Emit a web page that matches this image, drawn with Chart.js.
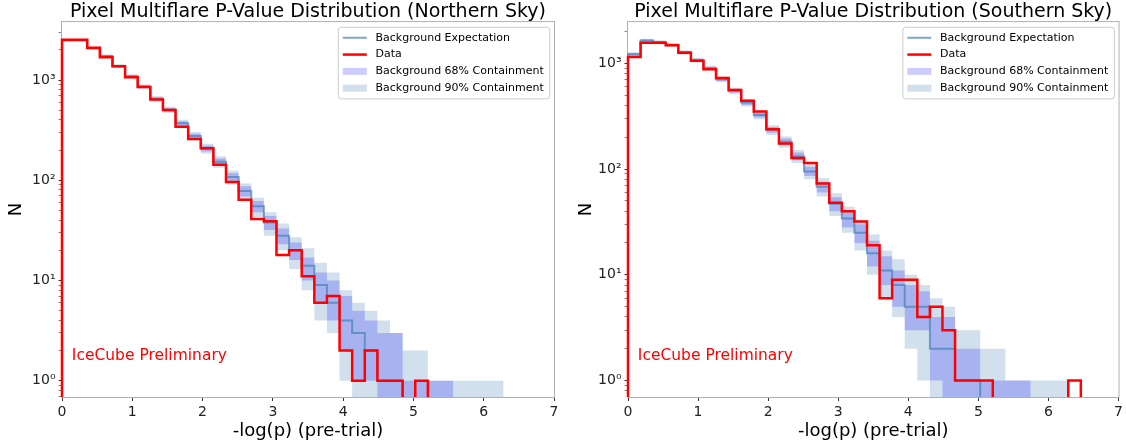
<!DOCTYPE html>
<html lang="en">
<head>
<meta charset="UTF-8">
<title>Pixel Multiflare P-Value Distribution</title>
<style>
  * { box-sizing: border-box; }
  body { margin: 0; background: #fff; width: 1126px; height: 448px; overflow: hidden; position: relative; }
  .chart-box { position: absolute; top: 0; width: 563px; height: 448px; }
  #north-box { left: 0; }
  #south-box { left: 563px; }
</style>
</head>
<body>
<div class="chart-box" id="north-box"><canvas id="northChart"></canvas></div>
<div class="chart-box" id="south-box"><canvas id="southChart"></canvas></div>

<script src="https://cdn.jsdelivr.net/npm/chart.js"></script>
<script>
    // bins of -log(p), all the same width, starting at 0
    const BIN_WIDTH = 0.1795;
    // zero counts sit below the visible log range
    const FLOOR = 0.1;

    const legendLabels = ['Background Expectation', 'Data', 'Background 68% Containment', 'Background 90% Containment'];
    const noteText = 'IceCube Preliminary';
    const xTickValues = [0, 1, 2, 3, 4, 5, 6, 7];
    const yTickValues = [0.7, 0.8, 0.9, 1, 2, 3, 4, 5, 6, 7, 8, 9, 10, 20, 30, 40, 50, 60, 70, 80, 90,
                         100, 200, 300, 400, 500, 600, 700, 800, 900, 1000, 2000, 3000];
    const yMajorTicks = [1, 10, 100, 1000];
    const yMajorLabels = ['10⁰', '10¹', '10²', '10³'];

    // Northern sky, counts per bin
    const northData = [2524, 2524, 2100, 1685, 1370, 1064, 851, 641, 502, 342, 258, 209, 143, 96, 64, 41, 39, 18, 20, 11,
                       6, 7, 2, 1, 2, 1, 1, 0, 1, 0, 0, 0, 0, 0, 0];
    const northExpected = [2500, 2500, 2080, 1740, 1380, 1090, 860, 650, 505, 370, 276, 208, 153, 108, 78, 55, 38, 28, 20, 14,
                           9, 6, 4, 3, 2, 1, 1, 0, 0, 0, 0, 0, 0, 0, 0];
    const north68Lo = [2450, 2450, 2035, 1700, 1343, 1057, 831, 625, 483, 351, 260, 194, 141, 98, 69, 48, 32, 23, 16, 10,
                       6, 4, 2, 1, 1, 0, 0, 0, 0, 0, 0, 0, 0, 0, 0];
    const north68Hi = [2550, 2550, 2125, 1780, 1417, 1123, 889, 675, 527, 389, 292, 222, 165, 118, 87, 62, 44, 33, 24, 17,
                       12, 10, 7, 5, 4, 3, 3, 1, 1, 1, 1, 0, 0, 0, 0];
    const north90Lo = [2418, 2418, 2005, 1672, 1319, 1036, 812, 608, 468, 338, 249, 185, 133, 91, 64, 43, 28, 20, 13, 8,
                       4, 3, 1, 0, 0, 0, 0, 0, 0, 0, 0, 0, 0, 0, 0];
    const north90Hi = [2582, 2582, 2155, 1808, 1441, 1144, 908, 692, 542, 402, 303, 232, 174, 125, 93, 67, 48, 37, 27, 21,
                       15, 12, 8, 6, 5, 4, 3, 2, 2, 1, 1, 1, 1, 1, 1];

    // Southern sky, counts per bin
    const southData = [1146, 1564, 1564, 1478, 1259, 1058, 878, 726, 560, 441, 349, 238, 174, 127, 114, 73, 48, 40, 32, 19,
                       6, 9, 9, 4, 5, 3, 1, 1, 1, 0, 0, 0, 0, 0, 0, 1];
    const southExpected = [1216, 1640, 1580, 1490, 1270, 1070, 897, 706, 548, 425, 325, 235, 181, 131, 95, 68, 47, 34, 25, 16,
                           11, 8, 5, 5, 2, 2, 1, 1, 0, 0, 0, 0, 0, 0, 0, 0];
    const south68Lo = [1181, 1600, 1540, 1451, 1234, 1037, 867, 679, 525, 404, 307, 220, 168, 121, 86, 60, 40, 28, 20, 12,
                       8, 5, 3, 3, 1, 0, 0, 0, 0, 0, 0, 0, 0, 0, 0, 0];
    const south68Hi = [1251, 1680, 1620, 1529, 1306, 1103, 927, 733, 571, 446, 343, 250, 194, 143, 105, 76, 54, 40, 30, 21,
                       15, 11, 8, 7, 4, 4, 2, 2, 1, 1, 1, 1, 0, 0, 0, 0];
    const south90Lo = [1159, 1574, 1515, 1427, 1211, 1016, 848, 662, 510, 391, 296, 210, 159, 114, 80, 55, 36, 25, 17, 10,
                       6, 4, 2, 1, 0, 0, 0, 0, 0, 0, 0, 0, 0, 0, 0, 0];
    const south90Hi = [1273, 1706, 1645, 1553, 1329, 1124, 946, 750, 586, 459, 354, 260, 203, 151, 111, 82, 59, 44, 33, 24,
                       17, 14, 10, 8, 6, 5, 3, 3, 2, 2, 1, 1, 1, 1, 1, 0];

    const FONT = 'DejaVu Sans';
    const RED = '#ff0000';
    const EXPECT_COLOR = 'rgba(70, 130, 180, 0.7)';
    const BAND68_COLOR = 'rgba(0, 0, 255, 0.2)';
    const BAND90_COLOR = 'rgba(70, 130, 180, 0.25)';

    function binEdges(n) {
        const e = [];
        for (let i = 0; i <= n; i++) e.push(i * BIN_WIDTH);
        return e;
    }

    // histogram outline, goes down to the floor at both ends
    function stepLine(values) {
        const e = binEdges(values.length);
        const pts = [{x: 0, y: FLOOR}];
        values.forEach((v, i) => pts.push({x: e[i], y: v > 0 ? v : FLOOR}));
        pts.push({x: e[values.length], y: FLOOR});
        return pts;
    }

    // one edge of a containment band
    function stepEdge(values) {
        const e = binEdges(values.length);
        const pts = values.map((v, i) => ({x: e[i], y: v > 0 ? v : FLOOR}));
        pts.push({x: e[values.length], y: pts[pts.length - 1].y});
        return pts;
    }

    function buildDatasets(data, expected, lo68, hi68, lo90, hi90) {
        const common = {stepped: true, pointRadius: 0, clip: {left: 2, top: 0, right: 0, bottom: 0}};
        const edge = {borderColor: 'transparent', borderWidth: 0};
        return [
            {...common, label: 'Data', data: stepLine(data), borderColor: RED, borderWidth: 2.5, fill: false},
            {...common, label: 'Background Expectation', data: stepLine(expected), borderColor: EXPECT_COLOR, borderWidth: 2, fill: false},
            {...common, ...edge, label: 'Background 68% Containment', data: stepEdge(hi68), backgroundColor: BAND68_COLOR, fill: '+1'},
            {...common, ...edge, label: '68 lower edge', data: stepEdge(lo68), fill: false},
            {...common, ...edge, label: 'Background 90% Containment', data: stepEdge(hi90), backgroundColor: BAND90_COLOR, fill: '+1'},
            {...common, ...edge, label: '90 lower edge', data: stepEdge(lo90), fill: false}
        ];
    }

    // gray box round the plot area
    const framePlugin = {
        id: 'frame',
        beforeDatasetsDraw(chart) {
            const {ctx, chartArea: a} = chart;
            ctx.save();
            ctx.strokeStyle = '#b0b0b0';
            ctx.lineWidth = 1;
            ctx.strokeRect(a.left - 0.5, a.top - 0.5, a.width + 1, a.height + 1);
            ctx.restore();
        }
    };

    const notePlugin = {
        id: 'note',
        afterDatasetsDraw(chart) {
            const {ctx, chartArea: a} = chart;
            ctx.save();
            ctx.font = '15.5px "' + FONT + '"';
            ctx.fillStyle = RED;
            ctx.textBaseline = 'alphabetic';
            ctx.fillText(noteText, a.left + 0.02 * a.width, a.bottom - 0.1 * a.height);
            ctx.restore();
        }
    };

    // matplotlib style legend in the upper right corner
    const boxLegendPlugin = {
        id: 'boxLegend',
        afterDatasetsDraw(chart) {
            const {ctx, chartArea: a} = chart;
            const sets = chart.data.datasets;
            ctx.save();
            ctx.font = '11px "' + FONT + '"';
            const textW = Math.max(...legendLabels.map(t => ctx.measureText(t).width));
            const w = 37.7 + textW + 5.5, h = 71.6;
            const x0 = a.right - 4.7 - w, y0 = a.top + 4.7;
            ctx.beginPath();
            ctx.roundRect(x0 + 0.5, y0 + 0.5, w, h, 3);
            ctx.fillStyle = 'rgba(255,255,255,0.8)';
            ctx.fill();
            ctx.strokeStyle = '#cccccc';
            ctx.lineWidth = 1;
            ctx.stroke();
            legendLabels.forEach((label, i) => {
                const ds = sets.find(d => d.label === label);
                const y = y0 + 11 + 16.8 * i;
                if (ds.fill) {
                    ctx.fillStyle = ds.backgroundColor;
                    ctx.fillRect(x0 + 5, y - 3.5, 24, 7);
                } else {
                    ctx.beginPath();
                    ctx.moveTo(x0 + 5, y);
                    ctx.lineTo(x0 + 29, y);
                    ctx.strokeStyle = ds.borderColor;
                    ctx.lineWidth = ds.borderWidth;
                    ctx.stroke();
                }
                ctx.fillStyle = '#000';
                ctx.textBaseline = 'middle';
                ctx.fillText(label, x0 + 37.7, y);
            });
            ctx.restore();
        }
    };

    function makeChart(canvasId, titleText, datasets, yMin, yMax, axisWidth, rightPad, yTitlePad) {
        const ctx = document.getElementById(canvasId).getContext('2d');
        return new Chart(ctx, {
            type: 'line',
            data: {datasets: datasets},
            options: {
                responsive: true,
                maintainAspectRatio: false,
                animation: false,
                events: [],
                layout: {padding: {left: 0, top: 0, right: rightPad, bottom: 0}},
                plugins: {
                    legend: {display: false},
                    tooltip: {enabled: false},
                    title: {
                        display: true,
                        text: titleText,
                        fullSize: false,
                        color: '#000',
                        font: {family: FONT, size: 19, weight: 'normal', lineHeight: 1.03},
                        padding: {top: 2.5, bottom: 0}
                    }
                },
                scales: {
                    x: {
                        type: 'linear',
                        min: 0,
                        max: 7,
                        afterBuildTicks: s => { s.ticks = xTickValues.map(v => ({value: v})); },
                        afterFit: s => { s.height = 51; },
                        border: {display: false},
                        grid: {drawOnChartArea: false, tickLength: 4, tickColor: '#333', color: '#333'},
                        ticks: {
                            autoSkip: false, maxRotation: 0, padding: 3, color: '#222',
                            font: {family: FONT, size: 14},
                            callback: v => String(v)
                        },
                        title: {
                            display: true, text: '-log(p) (pre-trial)', color: '#000',
                            font: {family: FONT, size: 18}, padding: {top: 0, bottom: 6}
                        }
                    },
                    y: {
                        type: 'logarithmic',
                        min: yMin,
                        max: yMax,
                        afterBuildTicks: s => {
                            s.ticks = yTickValues.filter(v => v >= yMin && v <= yMax).map(v => ({value: v}));
                        },
                        afterFit: s => { s.width = axisWidth; },
                        border: {display: false},
                        grid: {
                            drawOnChartArea: false,
                            tickLength: 3.5,
                            tickColor: c => yMajorTicks.includes(c.tick.value) ? '#333' : '#666',
                            tickWidth: c => yMajorTicks.includes(c.tick.value) ? 1 : 0.8
                        },
                        ticks: {
                            autoSkip: false, padding: 3, color: '#222',
                            font: {family: FONT, size: 14},
                            callback: v => {
                                const k = yMajorTicks.indexOf(v);
                                return k >= 0 ? yMajorLabels[k] : '';
                            }
                        },
                        title: {
                            display: true, text: 'N', color: '#000',
                            font: {family: FONT, size: 18}, padding: {top: yTitlePad, bottom: 0}
                        }
                    }
                }
            },
            plugins: [framePlugin, notePlugin, boxLegendPlugin]
        });
    }

    makeChart('northChart', 'Pixel Multiflare P-Value Distribution (Northern Sky)',
        buildDatasets(northData, northExpected, north68Lo, north68Hi, north90Lo, north90Hi),
        0.688, 3790, 62, 9, 6);

    makeChart('southChart', 'Pixel Multiflare P-Value Distribution (Southern Sky)',
        buildDatasets(southData, southExpected, south68Lo, south68Hi, south90Lo, south90Hi),
        0.711, 2450, 65, 6, 13);
</script>
</body>
</html>
